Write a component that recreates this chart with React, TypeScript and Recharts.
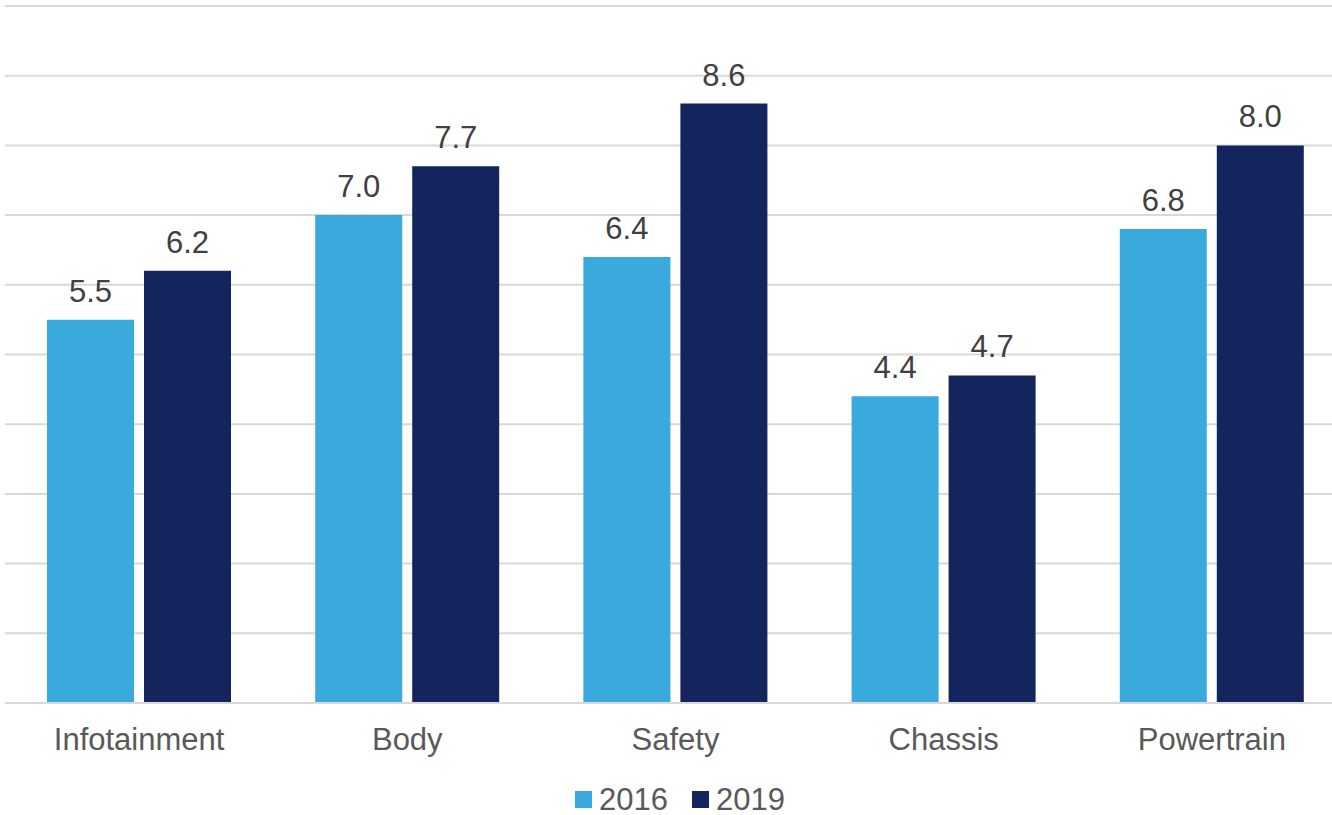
import { BarChart, Bar, XAxis, YAxis, CartesianGrid, LabelList, Legend } from "recharts";

const categories = ["Infotainment", "Body", "Safety", "Chassis", "Powertrain"];
const values2016 = [5.5, 7.0, 6.4, 4.4, 6.8];
const values2019 = [6.2, 7.7, 8.6, 4.7, 8.0];
const yTicks = [0, 1, 2, 3, 4, 5, 6, 7, 8, 9, 10];

const FONT = "'Liberation Sans', Arial, sans-serif";
const LIGHT = "#3AAADC";
const NAVY = "#14245C";

const data = categories.map((name, i) => ({ name, y2016: values2016[i], y2019: values2019[i] }));

function LegendBox() {
  const items = [
    { label: "2016", color: LIGHT },
    { label: "2019", color: NAVY },
  ];
  return (
    <div style={{ display: "flex", justifyContent: "center", gap: 24, fontFamily: FONT, fontSize: 31, lineHeight: "31px", color: "#595959" }}>
      {items.map((it) => (
        <div key={it.label} style={{ display: "flex", alignItems: "center" }}>
          <span style={{ display: "inline-block", width: 17, height: 17, background: it.color, marginRight: 7 }} />
          <span>{it.label}</span>
        </div>
      ))}
    </div>
  );
}

export default function App() {
  return (
    <div style={{ position: "absolute", left: 0, top: 0, width: 1332, height: 815, overflow: "hidden", background: "#fff" }}>
      <BarChart width={1346} height={815} data={data} margin={{ top: 6, right: 0, bottom: 0, left: 5 }} barGap={10} barSize={87}>
        <CartesianGrid vertical={false} stroke="#d9d9d9" strokeWidth={2} />
        <XAxis
          dataKey="name"
          height={112}
          tickLine={false}
          tickSize={0}
          tickMargin={25}
          axisLine={{ stroke: "#d9d9d9", strokeWidth: 2 }}
          tick={{ fill: "#595959", fontSize: 31, fontFamily: FONT }}
          interval={0}
        />
        <YAxis hide domain={[0, 10]} ticks={yTicks} />
        <Legend
          verticalAlign="middle"
          align="center"
          content={<LegendBox />}
          wrapperStyle={{ top: 784, left: 14, width: 1332, height: 31 }}
        />
        <Bar dataKey="y2016" name="2016" fill={LIGHT} isAnimationActive={false}>
          <LabelList dataKey="y2016" position="top" offset={18} formatter={(v: number) => v.toFixed(1)} fill="#404040" fontSize={31} fontFamily={FONT} />
        </Bar>
        <Bar dataKey="y2019" name="2019" fill={NAVY} isAnimationActive={false}>
          <LabelList dataKey="y2019" position="top" offset={18} formatter={(v: number) => v.toFixed(1)} fill="#404040" fontSize={31} fontFamily={FONT} />
        </Bar>
      </BarChart>
    </div>
  );
}
